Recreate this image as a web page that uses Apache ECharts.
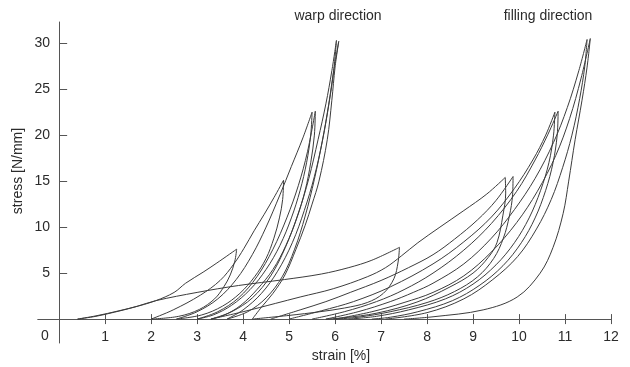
<!DOCTYPE html>
<html><head><meta charset="utf-8">
<script src="https://cdn.jsdelivr.net/npm/echarts@6/dist/echarts.min.js"></script>
<style>html,body{margin:0;padding:0;background:#fff}#c{width:630px;height:367px}</style>
</head><body><div id="c"></div>
<script>
// ---- tick labels ----
const xTicks = [1,2,3,4,5,6,7,8,9,10,11,12];
const yTicks = [5,10,15,20,25,30];
const annotations = ['warp direction', 'filling direction'];

// ---- warp direction curves: [strain %, stress N/mm] ----
const warpLoad0 = [[0.4,0],[0.8,0.3],[1.2,0.75],[1.6,1.25],[2.1,2.0],[2.5,2.9],[2.75,3.9],[3.13,5.1],[3.43,6.1],[3.86,7.6]];
const warpUnload1 = [[3.86,7.6],[3.82,6.3],[3.72,4.8],[3.58,3.5],[3.38,2.2],[3.05,1.05],[2.6,0.3],[2.0,0]];
const warpLoad1 = [[2.0,0],[2.48,1.0],[3.07,2.6],[3.5,4.2],[3.8,6.0],[4.02,7.7],[4.24,9.6],[4.46,11.4],[4.67,13.2],[4.88,15.1]];
const warpUnload2 = [[4.88,15.1],[4.86,13.0],[4.79,11.0],[4.67,8.8],[4.5,6.6],[4.25,4.6],[3.93,2.8],[3.55,1.4],[3.1,0.45],[2.55,0]];
const warpLoad2 = [[2.55,0],[3.0,0.8],[3.45,2.2],[3.85,4.3],[4.2,7.0],[4.5,10.0],[4.8,13.5],[5.05,16.6],[5.3,19.7],[5.5,22.5]];
const warpUnload3a = [[5.5,22.5],[5.47,20.0],[5.38,17.0],[5.24,14.0],[5.05,11.0],[4.8,8.0],[4.5,5.4],[4.15,3.2],[3.75,1.5],[3.35,0.45],[3.0,0]];
const warpLoad3 = [[3.0,0],[3.45,0.8],[3.9,2.3],[4.3,4.6],[4.65,7.6],[4.95,11.0],[5.2,14.5],[5.4,18.2],[5.57,22.6]];
const warpUnload3b = [[5.57,22.6],[5.55,20.0],[5.47,17.0],[5.35,14.0],[5.17,11.0],[4.93,8.0],[4.65,5.4],[4.3,3.2],[3.95,1.5],[3.6,0.45],[3.3,0]];
const warpLoad4 = [[3.3,0],[3.75,0.8],[4.2,2.3],[4.6,4.7],[4.92,7.8],[5.2,11.5],[5.43,15.3],[5.63,19.5],[5.8,23.4],[5.93,27.0],[6.03,30.3]];
const warpUnload4a = [[6.03,30.3],[5.97,27.0],[5.87,23.5],[5.73,19.5],[5.55,15.5],[5.33,11.8],[5.07,8.3],[4.75,5.2],[4.4,2.8],[4.0,1.0],[3.65,0]];
const warpLoad5 = [[3.65,0],[4.1,0.8],[4.5,2.3],[4.85,4.6],[5.12,7.6],[5.35,11.2],[5.55,15.2],[5.72,19.3],[5.86,23.3],[5.97,27.0],[6.08,30.2]];
const warpUnload4b = [[6.08,30.2],[6.0,27.4],[5.93,23.8],[5.83,19.5],[5.65,15.0],[5.5,12.5],[5.35,10.2],[5.15,7.6],[4.91,4.8],[4.65,2.8],[4.4,1.3],[4.2,0]];

// ---- filling direction curves ----
const fillLoad0 = [[0.4,0],[0.8,0.35],[1.3,0.9],[1.7,1.4],[2.1,2.0],[3.0,2.9],[3.9,3.65],[4.9,4.3],[5.7,4.9],[6.3,5.6],[6.8,6.4],[7.4,7.8]];
const fillUnload1 = [[7.4,7.8],[7.37,6.2],[7.28,4.4],[7.05,2.8],[6.7,1.8],[6.2,1.2],[5.67,0.8],[5.0,0.4],[4.2,0]];
const fillLoad1 = [[3.3,0],[4.0,0.8],[4.7,1.7],[5.24,2.4],[5.96,3.3],[6.7,4.6],[7.1,5.6],[7.45,6.9],[7.8,8.3],[8.28,10.0],[8.8,11.8],[9.3,13.6],[9.7,15.4]];
const fillUnload2a = [[9.7,15.4],[9.71,13.7],[9.65,11.3],[9.52,8.3],[9.33,6.7],[9.0,5.0],[8.5,3.5],[7.78,1.85],[6.91,0.65],[6.2,0.15],[5.8,0]];
const fillLoad2 = [[4.6,0],[5.24,1.0],[5.8,1.9],[6.33,2.9],[7.0,4.2],[7.6,5.6],[8.13,7.0],[8.6,8.7],[9.1,10.8],[9.5,12.9],[9.87,15.5]];
const fillUnload2b = [[9.87,15.5],[9.86,13.5],[9.79,11.2],[9.66,8.8],[9.45,6.6],[9.1,4.6],[8.6,3.0],[8.0,1.8],[7.2,0.8],[6.5,0.2],[6.0,0]];
const fillLoad3 = [[5.0,0],[5.7,0.9],[6.4,1.9],[7.2,3.5],[8.13,6.0],[8.8,8.4],[9.4,11.1],[9.9,14.2],[10.3,17.3],[10.58,20.0],[10.78,22.5]];
const fillUnload3a = [[10.78,22.5],[10.75,20.0],[10.65,17.0],[10.47,14.0],[10.22,11.0],[9.9,8.3],[9.5,5.9],[9.0,3.8],[8.4,2.2],[7.6,1.0],[6.9,0.3],[6.3,0]];
const fillLoad4 = [[5.5,0],[6.2,0.8],[6.9,1.9],[7.5,3.2],[8.13,5.0],[8.8,7.5],[9.4,10.4],[9.95,13.9],[10.35,17.3],[10.63,20.1],[10.85,22.6]];
const fillUnload3b = [[10.85,22.6],[10.83,20.0],[10.74,17.0],[10.58,14.0],[10.35,11.0],[10.05,8.3],[9.65,5.8],[9.15,3.7],[8.55,2.0],[7.8,0.8],[7.2,0.2],[6.8,0]];
const fillLoad5 = [[5.8,0],[6.5,0.8],[7.2,1.9],[7.7,2.9],[8.13,3.9],[8.8,6.0],[9.4,8.8],[9.9,11.9],[10.35,15.3],[10.75,19.2],[11.05,23.0],[11.3,27.0],[11.48,30.4]];
const fillUnload4a = [[11.48,30.4],[11.43,27.5],[11.32,24.0],[11.15,20.0],[10.95,16.5],[10.7,13.0],[10.38,9.8],[9.97,6.8],[9.43,4.3],[8.8,2.2],[8.0,0.7],[7.1,0]];
const fillLoad6 = [[6.0,0],[6.8,0.8],[7.5,1.8],[8.13,2.9],[8.8,4.7],[9.4,7.3],[9.95,10.5],[10.4,13.9],[10.8,17.8],[11.1,21.8],[11.35,26.2],[11.55,30.5]];
const fillUnload4b = [[11.55,30.5],[11.48,27.4],[11.37,23.8],[11.22,19.5],[11.08,15.0],[10.96,11.5],[10.74,7.8],[10.46,5.0],[9.96,2.4],[9.22,1.0],[8.13,0.25],[7.5,0]];

const curves = [warpLoad0, warpUnload1, warpLoad1, warpUnload2, warpLoad2, warpUnload3a, warpLoad3, warpUnload3b, warpLoad4, warpUnload4a, warpLoad5, warpUnload4b,
  fillLoad0, fillUnload1, fillLoad1, fillUnload2a, fillLoad2, fillUnload2b, fillLoad3, fillUnload3a, fillLoad4, fillUnload3b, fillLoad5, fillUnload4a, fillLoad6, fillUnload4b];

const FONT = "'Liberation Sans', Arial, sans-serif";
const TXT = '#2b2b2b';
const AX = '#555';

const chart = echarts.init(document.getElementById('c'), null, {renderer: 'canvas'});
const option = {
  animation: false,
  backgroundColor: '#fff',
  grid: {left: 38, right: 19, top: 22, bottom: 24, containLabel: false},
  xAxis: [{
    type: 'value', min: -0.46, max: 12, position: 'bottom',
    axisLine: {show: true, onZero: true, onZeroAxisIndex: 0, lineStyle: {color: AX, width: 1}},
    axisTick: {show: true, inside: false, length: 5, customValues: xTicks, lineStyle: {color: AX}},
    axisLabel: {show: true, customValues: xTicks, margin: -13, fontSize: 14, color: TXT, fontFamily: FONT},
    splitLine: {show: false}
  }, {
    type: 'value', min: -0.46, max: 12, position: 'top',
    axisLine: {show: true, onZero: true, onZeroAxisIndex: 1, lineStyle: {color: AX, width: 1}},
    axisTick: {show: true, inside: false, length: 5, customValues: xTicks, lineStyle: {color: AX}},
    axisLabel: {show: false},
    splitLine: {show: false}
  }],
  yAxis: [{
    type: 'value', min: -2.6, max: 32.3, position: 'left',
    axisLine: {show: true, onZero: true, onZeroAxisIndex: 0, lineStyle: {color: AX, width: 1}},
    axisTick: {show: true, inside: true, length: 8, customValues: yTicks, lineStyle: {color: AX}},
    axisLabel: {show: true, customValues: yTicks, margin: -12, fontSize: 14, color: TXT, fontFamily: FONT},
    splitLine: {show: false}
  }, {
    type: 'value', min: -2.6, max: 32.3, position: 'right',
    axisLine: {show: false, onZero: false},
    axisTick: {show: false}, axisLabel: {show: false}, splitLine: {show: false}
  }],
  graphic: [
    {type: 'text', left: 41, top: 329, style: {text: '0', fontSize: 14, fill: TXT, fontFamily: FONT}},
    {type: 'text', x: 341, y: 356, style: {text: 'strain [%]', fontSize: 14, fill: TXT, fontFamily: FONT, align: 'center', verticalAlign: 'middle'}},
    {type: 'text', x: 18, y: 171, rotation: Math.PI / 2, style: {text: 'stress [N/mm]', fontSize: 14, fill: TXT, fontFamily: FONT, align: 'center', verticalAlign: 'middle'}},
    {type: 'text', x: 338, y: 16, style: {text: annotations[0], fontSize: 14, fill: TXT, fontFamily: FONT, align: 'center', verticalAlign: 'middle'}},
    {type: 'text', x: 548, y: 16, style: {text: annotations[1], fontSize: 14, fill: TXT, fontFamily: FONT, align: 'center', verticalAlign: 'middle'}}
  ],
  series: curves.map(d => ({
    type: 'line', data: d, xAxisIndex: 0, yAxisIndex: 0,
    showSymbol: false, smooth: 0.35, silent: true,
    lineStyle: {color: '#3c3c3c', width: 1}
  }))
};
chart.setOption(option);
</script>
</body></html>
